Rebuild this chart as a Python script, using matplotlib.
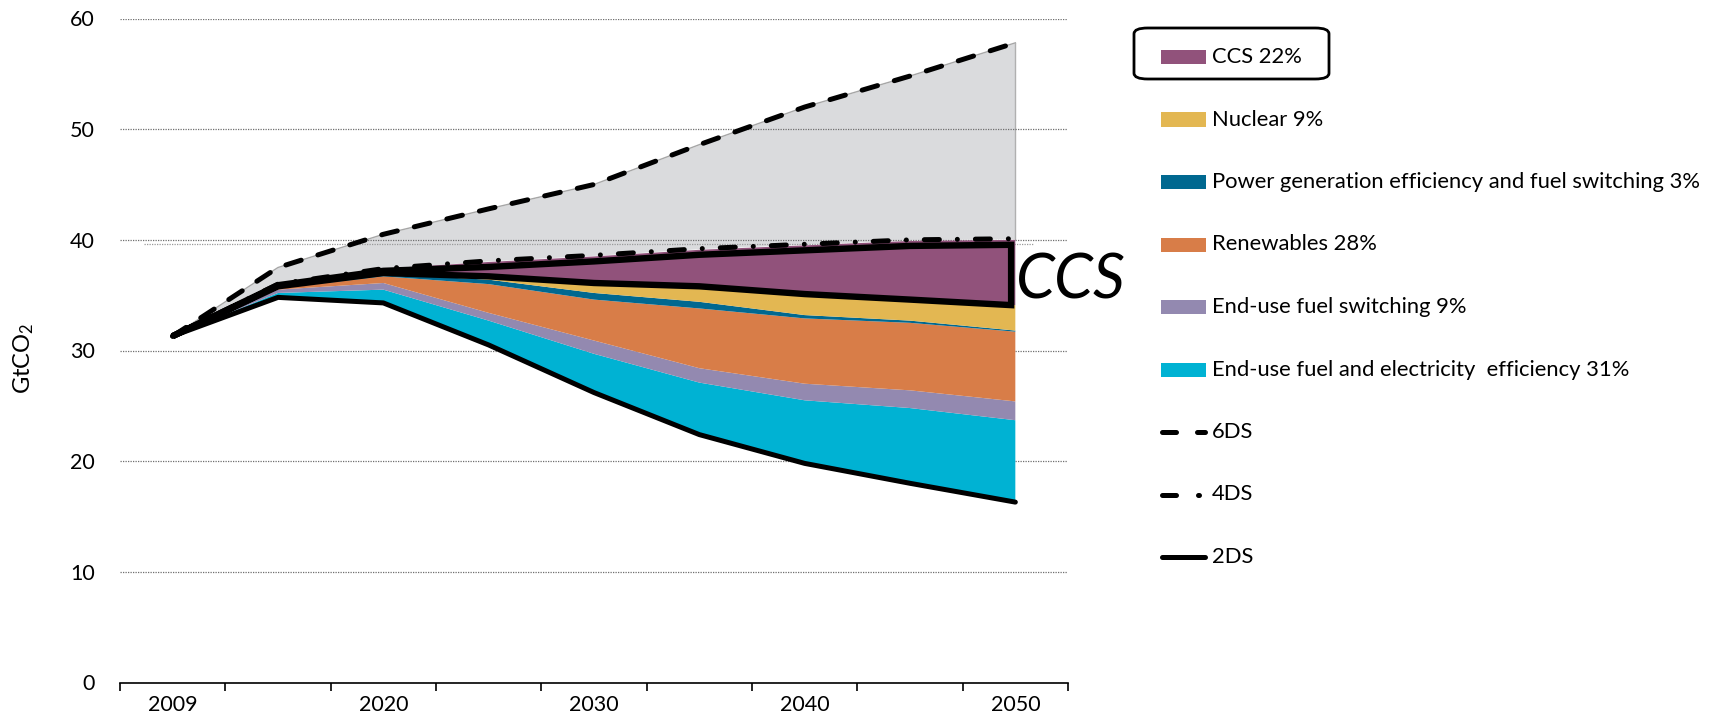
import matplotlib.pyplot as plt
import numpy as np
from matplotlib.lines import Line2D
from matplotlib.patches import FancyBboxPatch, Rectangle

plt.rcParams["font.family"] = ["Lato", "DejaVu Sans"]
plt.rcParams["mathtext.fontset"] = "custom"
plt.rcParams["mathtext.rm"] = "Lato"
plt.rcParams["mathtext.it"] = "Lato:italic"

# --- data (GtCO2) ---------------------------------------------------------
years = ["2009", "2015", "2020", "2025", "2030", "2035", "2040", "2045", "2050"]
year_labels = ["2009", "", "2020", "", "2030", "", "2040", "", "2050"]

ds6 = [31.3, 37.5, 40.5, 42.8, 45.0, 48.6, 52.0, 54.8, 57.8]
ds4 = [31.3, 36.0, 37.4, 38.1, 38.6, 39.2, 39.6, 40.0, 40.1]
ds2 = [31.3, 34.8, 34.3, 30.5, 26.2, 22.4, 19.8, 18.0, 16.3]

# wedges, stacked on top of 2DS (bottom to top)
enduse_eff = [0.0, 0.4, 1.2, 2.2, 3.5, 4.7, 5.7, 6.8, 7.4]
enduse_fuel = [0.0, 0.3, 0.6, 0.7, 1.2, 1.3, 1.5, 1.6, 1.7]
renewables = [0.0, 0.1, 0.6, 2.6, 3.7, 5.4, 5.9, 6.1, 6.3]
power_gen = [0.0, 0.1, 0.2, 0.4, 0.6, 0.6, 0.3, 0.2, 0.1]
nuclear = [0.0, 0.1, 0.1, 0.3, 0.9, 1.4, 1.9, 1.9, 2.3]
ccs = [0.0, 0.2, 0.4, 1.3, 2.4, 3.3, 4.4, 5.3, 5.9]

wedges = [enduse_eff, enduse_fuel, renewables, power_gen, nuclear, ccs]
wedge_colors = ["#00b2d3", "#9389b0", "#d87d48", "#006890", "#e3b752", "#91527b"]

legend_labels = [
    "CCS 22%",
    "Nuclear 9%",
    "Power generation efficiency and fuel switching 3%",
    "Renewables 28%",
    "End-use fuel switching 9%",
    "End-use fuel and electricity  efficiency 31%",
]
legend_colors = wedge_colors[::-1]
line_labels = ["6DS", "4DS", "2DS"]

ref_line_level = 39.6

# --- figure -------------------------------------------------------------
W, H = 1717, 718
fig = plt.figure(figsize=(W / 100, H / 100), dpi=100)
ax = fig.add_axes([120 / W, 1 - 682.5 / H, 948 / W, 664 / H])

x = np.arange(len(years))
lw = 3.6
dash6 = (0, (3.2, 3.5))
dash4 = (0, (3.0, 3.6, 0.01, 3.6))

# 6DS - 4DS gap
ax.fill_between(x, ds4, ds6, color="#dadbdd", lw=0, zorder=1)
ax.plot(x, ds6, color="#a6a6a6", lw=1.0, zorder=1.1)
ax.plot([x[-1], x[-1]], [ds4[-1], ds6[-1]], color="#b0b0b0", lw=1.0, zorder=1.1)

ax.hlines(ref_line_level, -0.27, 8.17, colors="#9a9a9a", linestyles=(0, (1, 1)),
          lw=0.9, zorder=1.4)

# stacked wedges
ax.stackplot(x, ds2, *wedges, colors=["none"] + wedge_colors, lw=0, zorder=2)

# CCS outline, drawn slightly inside the wedge so the 4DS line stays visible
stack = np.cumsum(np.vstack([ds2] + wedges), axis=0)
inset = np.minimum(0.45, 0.5 * np.asarray(ccs))
ccs_lo, ccs_hi = stack[-2], stack[-1] - inset
xo = x.astype(float)
xo[-1] -= 0.04
ax.fill(np.r_[xo, xo[::-1]], np.r_[ccs_hi, ccs_lo[::-1]], facecolor="none",
        edgecolor="black", lw=4.6, joinstyle="miter", zorder=3)

# scenario lines
ax.plot(x, ds6, color="black", lw=lw, ls=dash6, dash_capstyle="round", zorder=4)
ax.plot(x, ds4, color="black", lw=lw, ls=dash4, dash_capstyle="round", zorder=4)
ax.plot(x, ds2, color="black", lw=lw, solid_capstyle="round", zorder=4)

ax.text(8.01, 36.3, "CCS", fontsize=45, style="italic", va="center", ha="left")

# axes styling
ax.set_xlim(-0.5, len(years) - 0.5)
ax.set_ylim(0, 60)
ax.set_yticks(range(0, 61, 10))
ax.set_xticks(np.arange(-0.5, len(years)), labels=[])
ax.set_xticks(x, labels=year_labels, minor=True)
ax.tick_params(axis="x", which="major", length=6, width=1.2, direction="out")
ax.tick_params(axis="x", which="minor", length=0, pad=9, labelsize=15.5)
ax.tick_params(axis="y", length=0, pad=18, labelsize=15.5)
ax.set_axisbelow("line")
ax.yaxis.grid(True, linestyle=(0, (1, 1)), color="#6f6f6f", lw=0.9)
for side in ["left", "right", "top"]:
    ax.spines[side].set_visible(False)
ax.spines["bottom"].set_linewidth(1.2)

fig.text(24 / W, 1 - 358 / H, "GtCO$_2$", rotation=90, fontsize=17,
         ha="center", va="center")

# legend (built by hand to match spacing)
def fx(px):
    return px / W


def fy(py):
    return 1 - py / H


row_y = 57
step = 62.5
for label, color in zip(legend_labels, legend_colors):
    fig.add_artist(Rectangle((fx(1161), fy(row_y + 7)), fx(45), 14 / H,
                             facecolor=color, edgecolor="none",
                             transform=fig.transFigure))
    fig.text(fx(1212), fy(row_y), label, fontsize=15.8, va="center", ha="left")
    row_y += step

line_pieces = {
    "6DS": [(1162, 1176), (1197, 1205)],
    "4DS": [(1162, 1176), (1198, 1198.5)],
    "2DS": [(1162, 1205)],
}
for label in line_labels:
    for a, b in line_pieces[label]:
        fig.add_artist(Line2D([fx(a), fx(b)], [fy(row_y)] * 2, color="black",
                              lw=lw, solid_capstyle="round",
                              transform=fig.transFigure))
    fig.text(fx(1212), fy(row_y), label, fontsize=15.8, va="center", ha="left")
    row_y += step

box = FancyBboxPatch((fx(1134), fy(79)), fx(195), 51 / H,
                     boxstyle="round,pad=0,rounding_size=0.008",
                     facecolor="none", edgecolor="black", lw=2.0,
                     transform=fig.transFigure)
fig.add_artist(box)

fig.savefig("out.png", dpi=100)
